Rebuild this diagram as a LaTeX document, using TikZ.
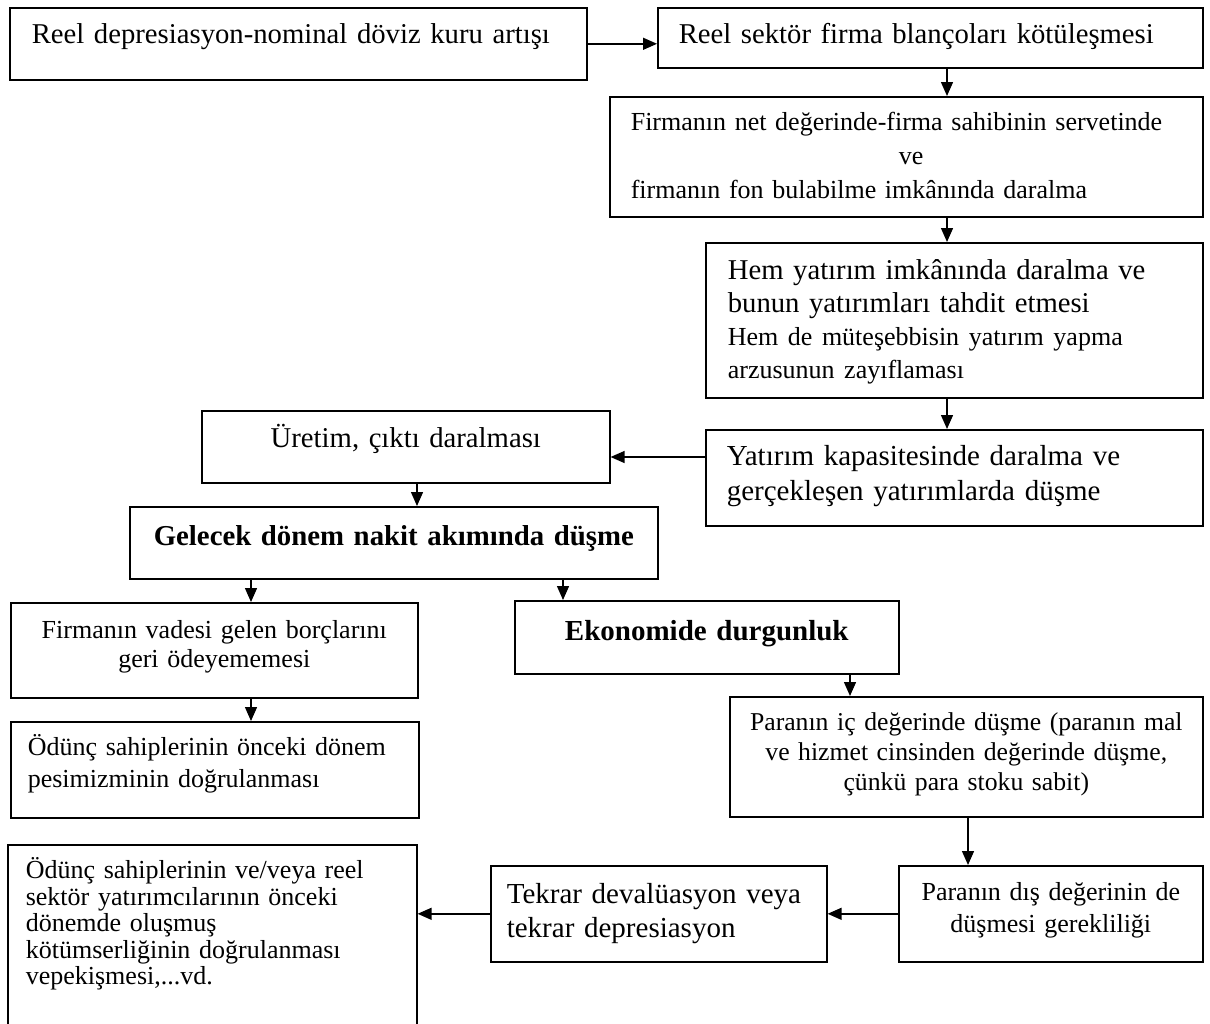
\documentclass[tikz,border=0pt]{standalone}
\usepackage{fontspec}
\setmainfont{Liberation Serif}
\usetikzlibrary{arrows.meta}
\begin{document}
\begin{tikzpicture}[x=1pt, y=-1pt,
  kutu/.style={draw, line width=1.6pt, anchor=north west, inner ysep=0pt},
  ok/.style={-{Triangle[length=14pt,width=12pt]}, line width=1.4pt}]
\useasboundingbox (0,0) rectangle (1210,1023);
\node[kutu, text width=533pt, inner xsep=22pt, text height=36pt, text depth=36pt, align=left,
  font=\fontsize{28.7pt}{33pt}\selectfont] (a) at (9,7) {Reel depresiasyon-nominal döviz kuru artışı};
\node[kutu, text width=503pt, inner xsep=21pt, text height=36pt, text depth=24pt, align=left,
  font=\fontsize{28.7pt}{33pt}\selectfont] (b) at (657,7) {Reel sektör firma blançoları kötüleşmesi};
\node[kutu, text width=551pt, inner xsep=21pt, text height=34pt, text depth=86pt, align=left,
  font=\fontsize{26pt}{34pt}\selectfont] (c) at (609,96) {Firmanın net değerinde-firma sahibinin servetinde\\
  \hspace*{268pt}ve\\ firmanın fon bulabilme imkânında daralma};
\node[kutu, text width=453pt, inner xsep=22pt, text height=37pt, text depth=118pt, align=left,
  font=\fontsize{28.7pt}{33pt}\selectfont] (d) at (705,242) {Hem yatırım imkânında daralma ve\\
  bunun yatırımları tahdit etmesi\\ \fontsize{26pt}{33pt}\selectfont Hem de müteşebbisin yatırım yapma\\
  arzusunun zayıflaması};
\node[kutu, text width=455pt, inner xsep=21pt, text height=36pt, text depth=60pt, align=left,
  font=\fontsize{29pt}{35pt}\selectfont] (e) at (705,429) {Yatırım kapasitesinde daralma ve\\
  gerçekleşen yatırımlarda düşme};
\node[kutu, text width=388pt, inner xsep=10pt, text height=37pt, text depth=35pt, align=center,
  font=\fontsize{28.7pt}{33pt}\selectfont] (f) at (201,410) {Üretim, çıktı daralması};
\node[kutu, text width=508pt, inner xsep=10pt, text height=39pt, text depth=33pt, align=center,
  font=\fontsize{28.8pt}{33pt}\selectfont\bfseries] (g) at (129,506) {Gelecek dönem nakit akımında düşme};
\node[kutu, text width=387pt, inner xsep=10pt, text height=36pt, text depth=59pt, align=center,
  font=\fontsize{26pt}{29pt}\selectfont] (h) at (10,602) {Firmanın vadesi gelen borçlarını\\ geri ödeyememesi};
\node[kutu, text width=364pt, inner xsep=10pt, text height=40pt, text depth=33pt, align=center,
  font=\fontsize{29pt}{33pt}\selectfont\bfseries] (i) at (514,600) {Ekonomide durgunluk};
\node[kutu, text width=374pt, inner xsep=17pt, text height=34pt, text depth=62pt, align=left,
  font=\fontsize{26pt}{32pt}\selectfont] (j) at (10,721) {Ödünç sahiplerinin önceki dönem\\ pesimizminin doğrulanması};
\node[kutu, text width=453pt, inner xsep=10pt, text height=34pt, text depth=86pt, align=center,
  font=\fontsize{25.7pt}{30pt}\selectfont] (k) at (729,696) {Paranın iç değerinde düşme (paranın mal\\
  ve hizmet cinsinden değerinde düşme,\\ çünkü para stoku sabit)};
\node[kutu, text width=284pt, inner xsep=10pt, text height=35pt, text depth=61pt, align=center,
  font=\fontsize{26pt}{32pt}\selectfont] (l) at (898,865) {Paranın dış değerinin de\\ düşmesi gerekliliği};
\node[kutu, text width=304pt, inner xsep=16pt, text height=38pt, text depth=58pt, align=left,
  font=\fontsize{29pt}{34pt}\selectfont] (m) at (490,865) {Tekrar devalüasyon veya\\ tekrar depresiasyon};
\node[kutu, text width=373pt, inner xsep=18pt, text height=34pt, text depth=185pt, align=left,
  font=\fontsize{26pt}{26.5pt}\selectfont] (n) at (7,844) {Ödünç sahiplerinin ve/veya reel\\
  sektör yatırımcılarının önceki\\ dönemde oluşmuş\\ kötümserliğinin doğrulanması\\ vepekişmesi,...vd.};
\coordinate (sag) at (947,0);
\coordinate (ef) at (0,457);
\coordinate (fg) at (417,0);
\coordinate (gh) at (251,0);
\coordinate (gi) at (563,0);
\coordinate (ik) at (850,0);
\coordinate (kl) at (968,0);
\draw[ok] (a.east) -- (a.east -| b.west);
\draw[ok] (b.south -| sag) -- (c.north -| sag);
\draw[ok] (c.south -| sag) -- (d.north -| sag);
\draw[ok] (d.south -| sag) -- (e.north -| sag);
\draw[ok] (e.west |- ef) -- (f.east |- ef);
\draw[ok] (f.south -| fg) -- (g.north -| fg);
\draw[ok] (g.south -| gh) -- (h.north -| gh);
\draw[ok] (g.south -| gi) -- (i.north -| gi);
\draw[ok] (h.south -| gh) -- (j.north -| gh);
\draw[ok] (i.south -| ik) -- (k.north -| ik);
\draw[ok] (k.south -| kl) -- (l.north -| kl);
\draw[ok] (l.west) -- (m.east);
\draw[ok] (m.west) -- (m.west -| n.east);
\end{tikzpicture}
\end{document}
